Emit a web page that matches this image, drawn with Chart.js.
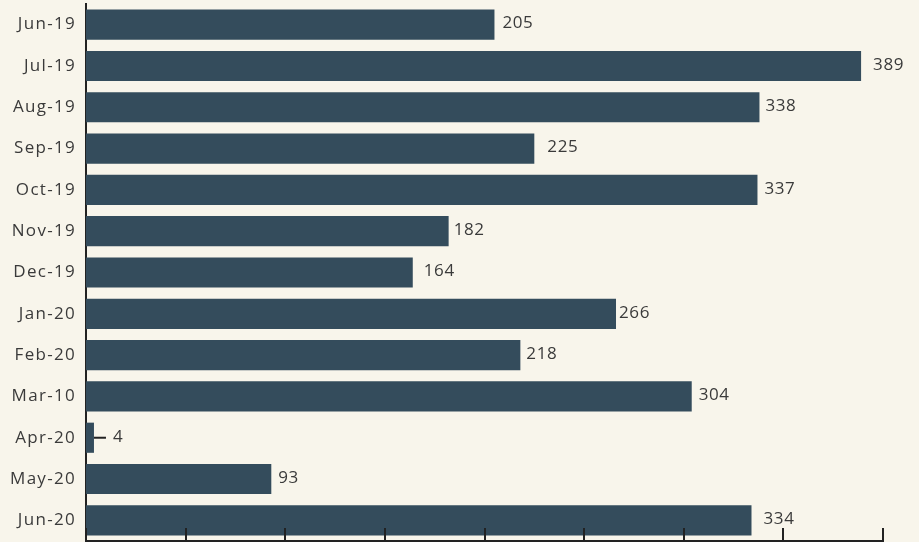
<!DOCTYPE html>
<html>
<head>
<meta charset="utf-8">
<script src="https://cdn.jsdelivr.net/npm/chart.js@4"></script>
<style>
  html, body { margin: 0; padding: 0; background: #f8f5eb; }
  #wrap { width: 919px; height: 542px; }
</style>
</head>
<body>
<div id="wrap"><canvas id="chart"></canvas></div>
<script>
const months = ["Jun-19", "Jul-19", "Aug-19", "Sep-19", "Oct-19", "Nov-19", "Dec-19",
                "Jan-20", "Feb-20", "Mar-10", "Apr-20", "May-20", "Jun-20"];
const counts = [205, 389, 338, 225, 337, 182, 164, 266, 218, 304, 4, 93, 334];
const xTicks = [0, 50, 100, 150, 200, 250, 300, 350, 400];
// gap between bar end and its value label, as in the original
const labelGaps = [8, 12, 6, 13, 7, 5, 11, 3, 6, 7, 19, 7, 12];

const FONT = "'Open Sans', sans-serif";

const bgPlugin = {
    id: "bg",
    beforeDraw: (chart) => {
        const ctx = chart.ctx;
        ctx.letterSpacing = "1.3px";
        ctx.save();
        ctx.fillStyle = "#f8f5eb";
        ctx.fillRect(0, 0, chart.width, chart.height);
        ctx.restore();
    },
};

const valuePlugin = {
    id: "values",
    afterDatasetsDraw: (chart) => {
        const ctx = chart.ctx;
        const meta = chart.getDatasetMeta(0);
        ctx.save();
        ctx.font = "17px " + FONT;
        ctx.letterSpacing = "0.6px";
        ctx.fillStyle = "#3a3a3a";
        ctx.textBaseline = "middle";
        meta.data.forEach((bar, i) => {
            const x = bar.x + labelGaps[i];
            if (counts[i] < 10) {
                // short leader line for tiny bars
                ctx.strokeStyle = "#222222";
                ctx.lineWidth = 2;
                ctx.beginPath();
                ctx.moveTo(bar.x, bar.y);
                ctx.lineTo(bar.x + 12, bar.y);
                ctx.stroke();
            }
            ctx.fillText(counts[i], x, bar.y - 1);
        });
        ctx.restore();
    },
};

const tickPlugin = {
    id: "upTicks",
    afterDraw: (chart) => {
        const ctx = chart.ctx;
        const xs = chart.scales.x;
        const bottom = chart.chartArea.bottom;
        ctx.save();
        ctx.strokeStyle = "#222222";
        ctx.lineWidth = 2;
        xTicks.forEach((v) => {
            const px = Math.round(xs.getPixelForValue(v));
            ctx.beginPath();
            ctx.moveTo(px, bottom);
            ctx.lineTo(px, bottom - 13);
            ctx.stroke();
        });
        ctx.restore();
    },
};

new Chart(document.getElementById("chart"), {
    type: "bar",
    data: {
        labels: months,
        datasets: [
            {
                data: counts,
                backgroundColor: "#344c5c",
                barPercentage: 0.73,
                categoryPercentage: 1.0,
            },
        ],
    },
    options: {
        indexAxis: "y",
        responsive: true,
        maintainAspectRatio: false,
        animation: false,
        layout: { padding: { top: 4, right: 36, bottom: 0, left: 0 } },
        plugins: {
            legend: { display: false },
            tooltip: { enabled: false },
        },
        scales: {
            x: {
                min: 0,
                max: 400,
                afterFit: (scale) => { scale.height = 1; },
                ticks: { display: false, stepSize: 50 },
                grid: { display: false, drawTicks: false },
                border: { display: true, color: "#222222", width: 2 },
            },
            y: {
                afterFit: (scale) => {
                    scale.width = 86;
                    scale.paddingTop = 0;
                    scale.paddingBottom = 0;
                },
                ticks: {
                    color: "#3a3a3a",
                    font: { family: FONT, size: 17 },
                    padding: 10,
                },
                grid: { display: false, drawTicks: false },
                border: { display: true, color: "#222222", width: 2 },
            },
        },
    },
    plugins: [bgPlugin, valuePlugin, tickPlugin],
});
</script>
</body>
</html>
